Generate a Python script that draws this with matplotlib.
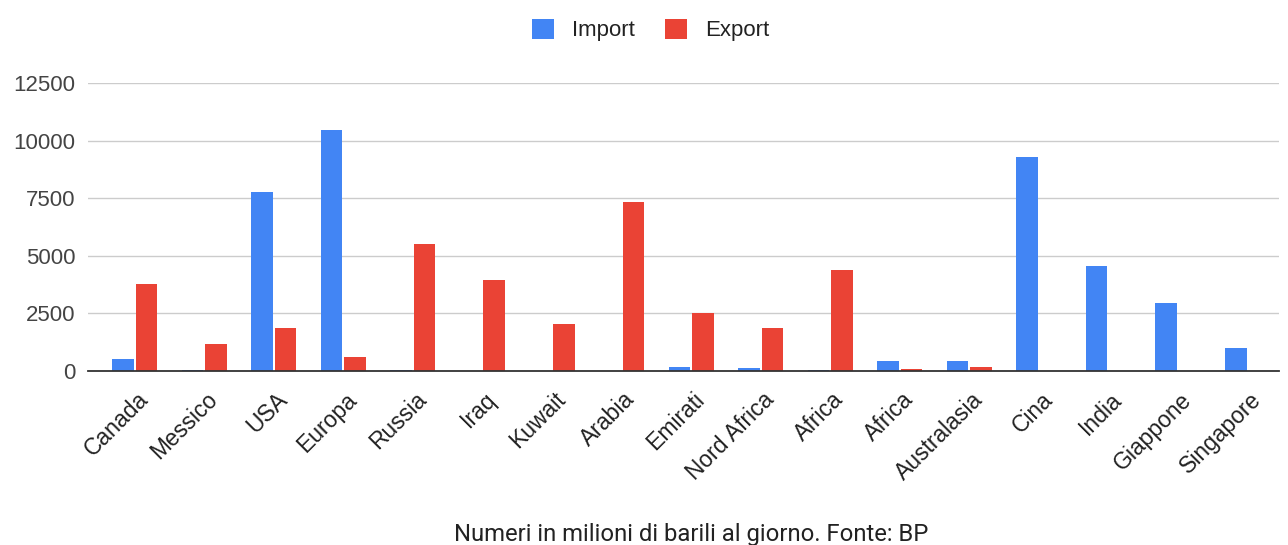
import numpy as np
import matplotlib.pyplot as plt
import matplotlib.transforms as mtransforms

categories = ["Canada", "Messico", "USA", "Europa", "Russia", "Iraq", "Kuwait", "Arabia",
              "Emirati", "Nord Africa", "Africa", "Africa", "Australasia", "Cina", "India",
              "Giappone", "Singapore"]
imports = [520, 30, 7770, 10460, 40, 0, 0, 0, 190, 120, 40, 430, 430, 9290, 4560, 2950, 1000]
exports = [3780, 1180, 1870, 610, 5510, 3950, 2040, 7340, 2520, 1870, 4380, 110, 160, 20, 0, 0, 20]
yticks = [0, 2500, 5000, 7500, 10000, 12500]

plt.rcParams['font.family'] = ['Liberation Sans', 'DejaVu Sans']

fig = plt.figure(figsize=(12.88, 5.45), dpi=100)
ax = fig.add_axes([0.068, 0.319, 0.925, 0.529])

x = np.arange(len(categories))
w = 0.31
ax.bar(x - w / 2 - 0.015, imports, w, color="#4285f4", label="Import", zorder=3)
ax.bar(x + w / 2 + 0.015, exports, w, color="#ea4335", label="Export", zorder=3)

ax.set_xlim(-0.675, len(categories) - 0.55)
ax.set_ylim(0, 12500)
ax.set_yticks(yticks)
ax.set_yticklabels([str(v) for v in yticks], fontsize=16, color="#444444")
ax.set_xticks(x)
ax.set_xticklabels([])
# category labels drawn by hand: google charts puts the label end a bit right of the group centre
off = mtransforms.ScaledTranslation(10 / 100, -25 / 100, fig.dpi_scale_trans)
for xi, name in zip(x, categories):
    ax.text(xi, 0, name, transform=ax.get_xaxis_transform() + off, rotation=45,
            ha="right", va="center", rotation_mode="anchor", fontsize=16.5, color="#222222")
ax.tick_params(length=0)
ax.tick_params(axis="y", pad=9)
ax.grid(axis="y", color="#cccccc", linewidth=1, zorder=0)
for s in ["top", "right", "left"]:
    ax.spines[s].set_visible(False)
ax.spines["bottom"].set_color("#333333")
ax.spines["bottom"].set_linewidth(1.3)
ax.spines["bottom"].set_zorder(4)

fig.legend(loc="center", bbox_to_anchor=(0.505, 0.945), ncol=2, frameon=False,
           fontsize=16, handlelength=1.0, handleheight=1.0, columnspacing=1.35,
           handletextpad=0.8, labelcolor="#222222")

fig.text(0.537, 0.007, "Numeri in milioni di barili al giorno. Fonte: BP",
         ha="center", va="baseline", fontsize=17.2, color="#222222", family="Roboto")

fig.savefig("out.png", dpi=100)
